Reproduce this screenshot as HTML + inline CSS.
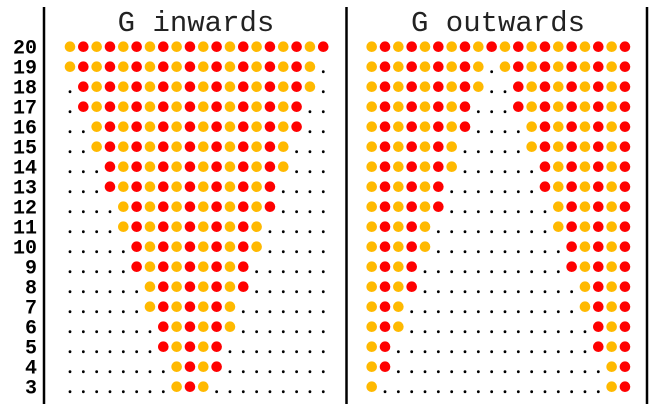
<!DOCTYPE html>
<html><head><meta charset="utf-8"><style>
html,body{margin:0;padding:0;background:#fff;}
svg{display:block}
.mono{font-family:"Liberation Mono","DejaVu Sans Mono",monospace;}
.title{font-family:"Courier New","Nimbus Mono PS","FreeMono","Courier","Liberation Mono",monospace;font-weight:normal;}
</style></head><body>
<svg id="chart" width="657" height="404" viewBox="0 0 657 404" xmlns="http://www.w3.org/2000/svg">
<line x1="44" y1="7" x2="44" y2="404" stroke="#000" stroke-width="2.5"/>
<line x1="346.5" y1="7" x2="346.5" y2="404" stroke="#000" stroke-width="2.5"/>
<line x1="647" y1="7" x2="647" y2="404" stroke="#000" stroke-width="2.5"/>
<text class="title" x="196" y="31" text-anchor="middle" font-size="29" fill="#222">G inwards</text>
<text class="title" x="498" y="31" text-anchor="middle" font-size="29" fill="#222">G outwards</text>
<g id="labels"></g>
<g id="marks"></g>
</svg>
<script>
const rows = [20,19,18,17,16,15,14,13,12,11,10,9,8,7,6,5,4,3];
const columnCount = 20;
const colors = ["#FFB900", "#FF0000"];
const panels = ["inwards", "outwards"];

const NS = "http://www.w3.org/2000/svg";
const labels = document.getElementById("labels");
const marks = document.getElementById("marks");
const y = n => 46.7 + (20 - n) * 20;
const xLeft = c => 70 + c * 13.33;
const xRight = c => 371.7 + c * 13.33;

function filled(panel, n, c) {
  if (panel === "inwards") {
    const l = Math.floor((columnCount - n) / 2);
    return c >= l && c < l + n;
  }
  const left = Math.floor(n / 2), right = Math.ceil(n / 2);
  return c < left || c >= columnCount - right;
}

rows.forEach(n => {
  const t = document.createElementNS(NS, "text");
  
  
  t.setAttribute("class", "mono");
  t.setAttribute("x", 37);
  t.setAttribute("y", y(n) + 7);
  t.setAttribute("text-anchor", "end");
  t.setAttribute("font-weight", "bold");
  t.setAttribute("font-size", "20");
  t.textContent = n;
  labels.appendChild(t);
  panels.forEach(p => {
    const xf = p === "inwards" ? xLeft : xRight;
    for (let c = 0; c < columnCount; c++) {
      const e = document.createElementNS(NS, "circle");
      if (filled(p, n, c)) {
        
        
        e.setAttribute("cx", xf(c));
        e.setAttribute("cy", y(n));
        e.setAttribute("r", 5.3);
        e.setAttribute("fill", colors[c % 2]);
      } else {
        
        
        e.setAttribute("cx", xf(c));
        e.setAttribute("cy", y(n) + 5);
        e.setAttribute("r", 1.4);
        e.setAttribute("fill", "#000");
      }
      marks.appendChild(e);
    }
  });
});
</script>
</body></html>
